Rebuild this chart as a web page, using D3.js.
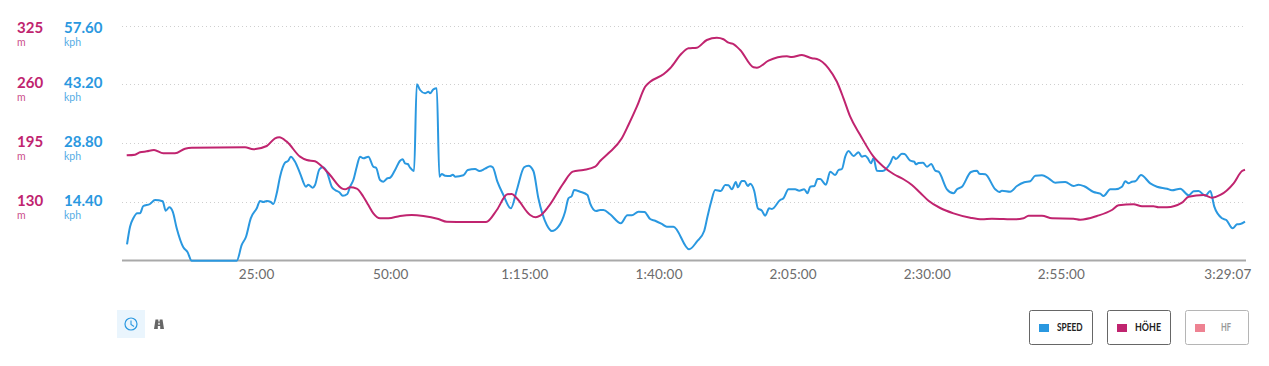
<!DOCTYPE html>
<html><head><meta charset="utf-8">
<script src="https://cdnjs.cloudflare.com/ajax/libs/d3/7.8.5/d3.min.js"></script>
<style>
html,body{margin:0;padding:0;background:#fff}
svg{display:block}
text{font-family:Lato,"Open Sans",sans-serif}
</style></head><body>
<svg id="c" width="1269" height="366"></svg>
<script>
const tickMinutes=[25,50,75,100,125,150,175,209.12];
const tickLabels=["25:00","50:00","1:15:00","1:40:00","2:05:00","2:30:00","2:55:00","3:29:07"];
const speedTicks=[14.4,28.8,43.2,57.6];
const speedTickLabels=["14.40","28.80","43.20","57.60"];
const altTicks=[130,195,260,325];
const legendNames=["SPEED","HÖHE","HF"];
const speedMin=[0.75,1.31,1.92,2.67,3.17,3.78,5.03,5.97,7.40,7.96,8.63,9.27,10.01,11.24,11.99,12.81,21.2,22.13,22.93,23.81,24.93,25.54,26.16,26.79,27.54,28.02,28.65,29.27,30.2,30.82,31.26,32.07,33.0,34.12,34.55,35.37,35.79,36.60,37.23,37.98,38.91,39.52,40.33,40.96,41.82,42.32,42.93,43.57,44.18,44.80,45.73,46.66,47.17,47.91,48.53,49.27,49.78,50.71,51.64,52.14,52.57,53.08,53.51,54.25,54.75,55.37,56.30,56.92,57.24,57.85,58.48,58.97,59.42,60.03,60.96,61.47,61.89,63.44,64.26,65.62,66.42,67.49,68.42,68.92,69.78,70.90,72.28,73.40,74.76,75.56,76.49,77.42,78.99,79.92,81.15,82.40,83.02,83.65,84.08,85.2,86.56,87.06,88.18,88.93,89.54,90.79,92.79,94.01,94.84,96.07,97.19,98.25,99.18,100.43,101.36,102.59,105.52,106.95,108.32,108.93,109.62,110.37,111.43,112.23,112.85,113.48,114.23,114.60,115.34,115.83,116.46,116.89,117.64,118.33,119.07,119.69,120.43,120.94,122.49,123.10,124.04,125.28,126.03,126.96,127.58,128.08,128.88,129.44,129.94,131.0,131.81,132.74,133.36,133.99,134.61,135.22,136.15,137.09,137.72,138.33,138.84,139.39,139.88,140.51,141.56,142.99,143.61,144.06,145.18,145.67,146.73,147.47,147.79,148.28,149.10,149.85,150.63,151.39,152.0,153.57,154.80,155.44,156.37,158.05,159.17,159.60,160.71,162.57,163.32,163.82,165.36,166.62,167.98,169.09,170.03,171.28,172.51,173.75,175.62,177.16,178.10,179.16,180.90,182.14,182.76,184.0,184.94,186.19,186.80,187.42,188.05,188.67,189.73,191.46,192.71,194.58,195.51,197.06,198.61,199.54,200.47,201.72,202.65,203.40,204.83,205.64,206.81,207.63,208.25,209.12];
const speedKph=[4.02,8.33,10.39,11.62,11.62,13.41,13.90,14.88,14.56,12.26,13.09,12.01,7.94,3.28,2.21,0,0,3.85,5.88,10.39,12.84,14.63,14.39,14.63,14.39,13.90,16.52,20.59,24.02,24.51,25.49,24.26,21.42,18.14,18.63,17.89,18.55,22.40,22.89,21.81,18.14,17.33,16.76,15.93,16.35,18.14,19.78,23.04,25.49,25.10,25.49,23.04,22.79,19.78,19.36,20.20,20.34,22.23,24.51,24.85,23.87,23.70,22.79,21.99,43.24,41.84,41.03,41.42,41.03,42.01,42.25,20.59,21.25,20.83,20.76,21.08,20.59,20.93,22.23,22.48,21.99,22.55,23.14,22.89,19.36,16.10,12.84,17.33,22.89,23.28,21.99,15.29,8.75,7.28,8.33,12.01,15.29,15.86,17.33,16.91,16.10,14.07,12.18,12.43,12.43,11.37,9.17,11.13,11.13,12.01,11.94,10.22,9.80,9.00,8.33,8.33,2.79,4.66,7.28,10.78,14.46,17.33,17.09,18.55,18.48,17.50,19.29,17.99,19.53,19.53,18.31,18.87,17.16,12.84,12.26,11.03,12.84,12.67,14.88,15.29,17.50,17.50,17.16,17.50,16.52,18.14,18.31,20.02,20.02,18.63,21.81,21.00,22.23,22.48,25.49,26.89,25.66,26.57,25.49,25.74,25.10,23.87,25.10,22.06,21.99,23.87,25.49,24.93,26.23,26.15,24.51,24.26,23.63,23.95,24.02,23.04,23.70,22.06,21.81,17.50,16.52,17.50,18.14,21.74,22.06,21.32,21.18,17.50,16.84,17.16,16.91,18.31,19.22,19.46,20.83,20.93,20.20,19.12,19.29,18.31,18.63,18.24,16.84,16.42,15.86,17.50,17.50,18.14,19.46,18.97,19.36,19.46,21.00,18.97,18.14,17.65,17.25,17.65,16.03,17.01,17.09,15.93,17.09,13.24,10.39,9.98,7.94,8.92,9.00,9.56];
const altMin=[0.69,2.24,3.17,4.42,5.78,7.51,9.69,11.56,12.81,22.74,24.29,26.79,28.34,29.14,30.52,33.0,34.25,35.79,36.73,38.59,40.77,41.39,42.32,43.57,44.80,45.73,46.66,47.91,49.46,51.64,53.82,55.98,58.78,60.35,64.07,67.67,69.67,71.64,72.46,73.40,75.88,76.94,77.74,79.29,82.08,83.83,85.81,88.0,88.93,90.47,92.97,94.20,95.77,97.32,98.25,100.73,101.98,104.16,105.39,106.95,108.82,110.68,111.92,112.85,113.60,115.03,117.51,118.14,120.31,123.74,124.67,126.53,128.40,129.33,131.49,133.06,134.29,135.54,137.40,139.88,141.74,143.61,145.47,147.04,148.58,150.13,152.31,154.79,157.91,160.09,161.95,166.30,167.85,168.78,171.28,173.15,177.16,178.41,181.52,184.32,185.55,188.35,189.92,192.08,193.01,194.58,197.38,198.61,201.41,202.97,204.52,207.0,208.57,209.12];
const altM=[181.6,182.3,184.9,186,187.5,183.8,183.8,188.9,190,190.5,188.3,191.9,200.4,201.5,196.7,180.1,176.4,175,171.2,159.8,145.1,144,146.2,144.7,135.8,126.6,117.4,111.9,111.9,114.5,115.6,114.5,111.1,108.1,107.8,107.8,121.1,138.5,138.8,134,115.6,113,114.8,124.7,150.6,163.5,165.4,169,175.3,183.8,200.4,215.1,235.4,257.5,263,271.2,277.9,294.5,300,300.7,309.2,311.7,310,306.2,305.1,298.1,279,278.5,286.3,291.1,290.4,292.6,288.9,288.2,277.9,263,244.7,224.3,204.1,180.1,169,160.9,155.1,148.8,140.2,131.4,123.3,117.4,112.6,110.8,111.5,110.8,111.9,114.8,114.8,111.9,111.5,110.4,114.5,121.1,126.3,127.4,125.2,125.2,124.1,124.1,129.2,135.8,137.7,134.7,137.7,150.6,164.2,165.7];

const BLUE="#2a98e0",PINK="#c0246f",ROSE="#ee8292";
const svg=d3.select("#c");
const x=d3.scaleLinear().domain([0,209.12]).range([123,1245]);
const yS=d3.scaleLinear().domain([0,57.6]).range([260.7,25.7]);
const yA=d3.scaleLinear().domain([65,325]).range([260.7,25.7]);

// grid
svg.append("g").selectAll("line").data(speedTicks).join("line")
  .attr("x1",122).attr("x2",1245)
  .attr("y1",d=>Math.round(yS(d))+.5).attr("y2",d=>Math.round(yS(d))+.5)
  .attr("stroke","#cfcfcf").attr("stroke-width",1).attr("stroke-dasharray","1 3");
// baseline + time labels
const ax=d3.axisBottom(x).tickValues(tickMinutes).tickSize(0).tickPadding(0)
  .tickFormat((d,i)=>tickLabels[i]);
const gx=svg.append("g").attr("transform","translate(0,261)").call(ax);
gx.select(".domain").remove();
gx.selectAll("text").attr("y",18).attr("dy",0).attr("fill","#6b6b6b").attr("font-size",13.5)
  .attr("font-family","Lato").attr("font-weight",400).attr("letter-spacing",.2).attr("dx",-1);
gx.selectAll(".tick").filter((d,i)=>i===tickMinutes.length-1).select("text")
  .attr("text-anchor","end").attr("dx",6);
svg.append("line").attr("x1",122).attr("x2",1246).attr("y1",260.5).attr("y2",260.5)
  .attr("stroke","#a9a9a9").attr("stroke-width",2);

// series
const lineOf=(xs,ys,yscale)=>d3.line().x((d,i)=>x(xs[i])).y((d,i)=>yscale(ys[i])).curve(d3.curveMonotoneX)(ys);
svg.append("path").attr("d",lineOf(speedMin,speedKph,yS)).attr("fill","none").attr("stroke",BLUE).attr("stroke-width",2).attr("stroke-linejoin","round");
svg.append("path").attr("d",lineOf(altMin,altM,yA)).attr("fill","none").attr("stroke",PINK).attr("stroke-width",2).attr("stroke-linejoin","round");

// y labels
const labs=svg.append("g");
speedTicks.forEach((d,i)=>{
  const yy=[205.5,147,88,33][i];
  labs.append("text").attr("x",17).attr("y",yy).attr("fill",PINK).attr("font-size",15).attr("font-weight",700).text(altTicks[i]);
  labs.append("text").attr("x",17).attr("y",yy+13).attr("fill",PINK).attr("opacity",.8).attr("font-size",10.5).text("m");
  labs.append("text").attr("x",64).attr("y",yy).attr("fill",BLUE).attr("font-size",15).attr("font-weight",700).text(speedTickLabels[i]);
  labs.append("text").attr("x",64).attr("y",yy+13).attr("fill",BLUE).attr("opacity",.8).attr("font-size",10.5).text("kph");
});

// mode toggle
svg.append("rect").attr("x",117).attr("y",310).attr("width",28).attr("height",28).attr("fill","#eaf5fd");
svg.append("circle").attr("cx",131).attr("cy",324).attr("r",6).attr("fill","none").attr("stroke",BLUE).attr("stroke-width",1.2);
svg.append("path").attr("d","M131 320.5V324.5L134 326.5").attr("fill","none").attr("stroke",BLUE).attr("stroke-width",1.1);
svg.append("path").attr("d","M154 329L155.5 319.5H158.3V321.5H159.7V319.5H162.5L164 329H160.2V326H157.8V329Z M158.3 322.8V324.8H159.7V322.8Z").attr("fill","#666").attr("fill-rule","evenodd");

// legend
const legX=[1029,1107,1185],legCol=[BLUE,PINK,ROSE],legW=[25.5,26,10];
legendNames.forEach((n,i)=>{
  const off=i===2;
  const g=svg.append("g").attr("transform",`translate(${legX[i]},310)`);
  g.append("rect").attr("x",.5).attr("y",.5).attr("width",63).attr("height",34).attr("rx",2).attr("fill","#fff")
    .attr("stroke",off?"#b5b5b5":"#666").attr("stroke-width",1);
  g.append("rect").attr("x",10).attr("y",14).attr("width",10).attr("height",8).attr("fill",legCol[i]);
  g.append("text").attr("x",i===2?36:28).attr("y",21).attr("fill",off?"#999":"#222")
    .attr("font-family","'Liberation Sans'").attr("font-weight",700).attr("font-size",11.5)
    .attr("textLength",legW[i]).attr("lengthAdjust","spacingAndGlyphs").text(n);
});
</script></body></html>
